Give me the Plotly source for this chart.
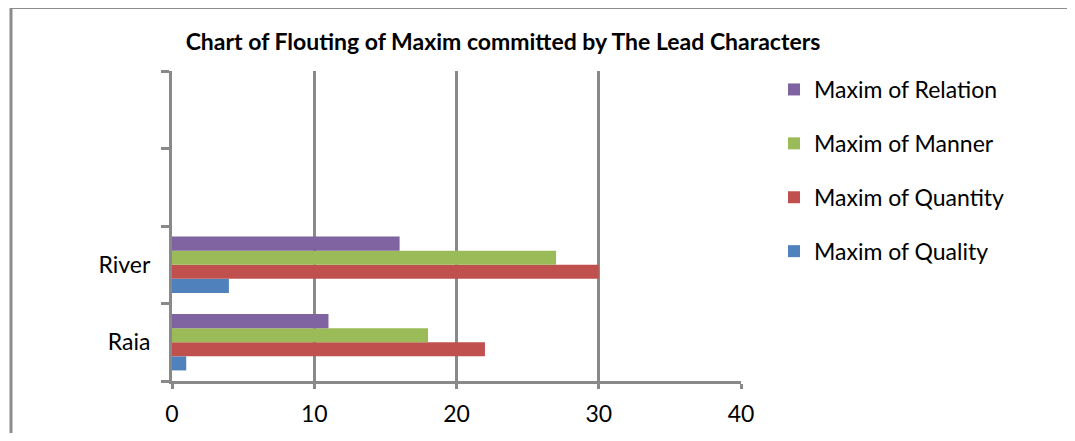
import plotly.graph_objects as go

categories = ["Raia", "River"]
axis_categories = ["Raia", "River", " ", "  "]
series_names = ["Maxim of Quality", "Maxim of Quantity", "Maxim of Manner", "Maxim of Relation"]
quality = [1, 4]
quantity = [22, 30]
manner = [18, 27]
relation = [11, 16]
series_values = [quality, quantity, manner, relation]
colors = ["#4F81BD", "#C0504D", "#9BBB59", "#8064A2"]
x_ticks = [0, 10, 20, 30, 40]

OFF = 8  # page body margin
W, H = 1075 - OFF, 441 - 2 * OFF
L, R, T, B = 172 - OFF, 741 - OFF, 71 - OFF, 381 - OFF
grid = "#898989"
font = "Lato"

fig = go.Figure()
for i, (name, vals, col) in enumerate(zip(series_names, series_values, colors)):
    fig.add_trace(go.Bar(
        y=categories, x=vals, name=name, orientation="h",
        marker=dict(color=col, line=dict(width=0)),
        legendgroup=name, legendrank=len(series_names) - i,
    ))

def px_x(p):
    return (p - OFF - L) / (R - L)

def px_y(p):
    return (B - (p - OFF)) / (B - T)

fig.add_shape(type="rect", xref="paper", yref="paper",
              x0=px_x(11), x1=px_x(1071), y0=px_y(470), y1=px_y(7.5),
              line=dict(color="#8c8c8c", width=3), layer="above")

fig.update_layout(
    width=W, height=H,
    margin=dict(l=L, r=W - R, t=T, b=H - B, pad=0, autoexpand=False),
    paper_bgcolor="white", plot_bgcolor="white",
    barmode="group", bargap=0.273, bargroupgap=0,
    title=dict(text="<b>Chart of Flouting of Maxim committed by The Lead Characters</b>",
               x=(503 - OFF) / W, xanchor="center",
               y=1 - (42 - OFF) / H, yanchor="middle",
               font=dict(family=font, size=23, color="black")),
    font=dict(family=font, size=23, color="black"),
    xaxis=dict(range=[0, 40], tickvals=x_ticks, showgrid=True, gridcolor=grid, gridwidth=3,
               showline=True, linecolor=grid, linewidth=3, ticks="outside", ticklen=5,
               tickwidth=3, tickcolor=grid, zeroline=False, fixedrange=True, automargin=False,
               tickfont=dict(size=23), ticklabelstandoff=5),
    yaxis=dict(type="category", categoryorder="array", categoryarray=axis_categories,
               range=[-0.5, 3.5], tickson="boundaries", showgrid=False,
               showline=True, linecolor=grid, linewidth=3, ticks="outside", ticklen=8,
               tickwidth=3, tickcolor=grid, tickfont=dict(size=23), ticklabelstandoff=14,
               fixedrange=True, automargin=False),
    legend=dict(x=px_x(774), y=px_y(68), xanchor="left", yanchor="top",
                traceorder="grouped", tracegroupgap=21,
                font=dict(size=23), itemwidth=30, bgcolor="rgba(0,0,0,0)"),
    showlegend=True,
)

fig.write_html("out.html")
